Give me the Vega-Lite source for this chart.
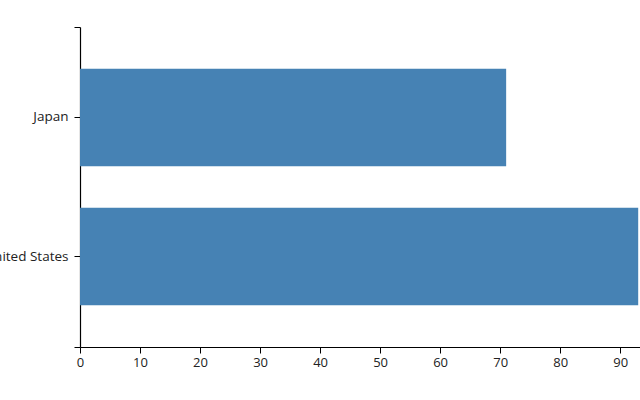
{
  "$schema": "https://vega.github.io/schema/vega-lite/v6.json",
  "width": 560,
  "height": 320,
  "autosize": "none",
  "padding": {"left": 80, "top": 27, "right": 0, "bottom": 53},
  "config": {
    "view": {"stroke": null},
    "font": "Open Sans",
    "axis": {
      "domainColor": "#000",
      "tickColor": "#000",
      "labelColor": "#222",
      "labelFont": "Open Sans",
      "labelFontSize": 13,
      "tickSize": 6,
      "grid": false,
      "title": null
    }
  },
  "data": {
    "values": [
      {"country": "Japan", "value": 71},
      {"country": "United States", "value": 93}
    ]
  },
  "layer": [
    {
      "mark": {"type": "bar", "color": "#4682b4"},
      "encoding": {
        "y": {
          "field": "country",
          "type": "nominal",
          "sort": null,
          "scale": {"paddingInner": 0.3, "paddingOuter": 0.3},
          "axis": {"labelPadding": 6, "labelFontSize": 13.5, "domainWidth": 1.2}
        },
        "x": {
          "field": "value",
          "type": "quantitative",
          "scale": {"domain": [0, 93.3], "nice": false},
          "axis": {"values": [0, 10, 20, 30, 40, 50, 60, 70, 80, 90], "labelPadding": 3, "labelFlush": false}
        }
      }
    },
    {
      "mark": {"type": "point", "opacity": 0},
      "encoding": {
        "y": {
          "datum": 0.5,
          "type": "quantitative",
          "scale": {"domain": [0, 1], "nice": false},
          "axis": {"orient": "right", "offset": -560, "values": [0, 1], "labels": false, "domain": false, "tickSize": -6}
        }
      }
    }
  ],
  "resolve": {"scale": {"y": "independent"}, "axis": {"y": "independent"}}
}
